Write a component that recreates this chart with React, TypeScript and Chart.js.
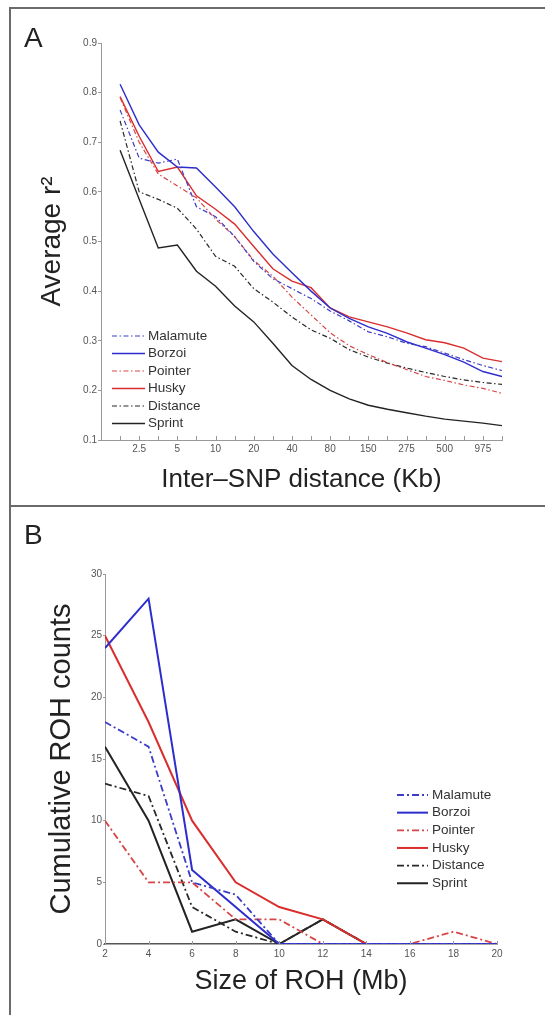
import React, { useEffect, useRef } from 'react';
import { Chart, registerables } from 'chart.js';

Chart.register(...registerables);

const FONT = 'Liberation Sans, Arial, Helvetica, sans-serif';

// ---------- Panel A data ----------
const seriesNames = ['Malamute', 'Borzoi', 'Pointer', 'Husky', 'Distance', 'Sprint'];
// tick labels shown under every other category position (index 1,3,...,19)
const distanceTickLabels = ['2.5', '5', '10', '20', '40', '80', '150', '275', '500', '975'];

const malamuteR2 = [0.765, 0.668, 0.658, 0.666, 0.57, 0.55, 0.51, 0.46, 0.425, 0.405, 0.385, 0.36, 0.34, 0.318, 0.308, 0.295, 0.288, 0.275, 0.262, 0.25, 0.24];
const borzoiR2 = [0.817, 0.735, 0.68, 0.65, 0.648, 0.61, 0.57, 0.52, 0.475, 0.437, 0.4, 0.366, 0.345, 0.328, 0.315, 0.298, 0.285, 0.272, 0.257, 0.238, 0.228];
const pointerR2 = [0.79, 0.7, 0.636, 0.612, 0.588, 0.545, 0.51, 0.462, 0.43, 0.388, 0.352, 0.316, 0.29, 0.272, 0.256, 0.242, 0.228, 0.22, 0.211, 0.204, 0.194];
const huskyR2 = [0.792, 0.712, 0.641, 0.65, 0.592, 0.565, 0.535, 0.49, 0.445, 0.42, 0.407, 0.366, 0.348, 0.338, 0.328, 0.316, 0.302, 0.296, 0.285, 0.265, 0.258];
const distanceR2 = [0.743, 0.6, 0.585, 0.567, 0.525, 0.47, 0.45, 0.405, 0.378, 0.348, 0.322, 0.305, 0.282, 0.267, 0.255, 0.245, 0.236, 0.228, 0.221, 0.216, 0.212];
const sprintR2 = [0.684, 0.585, 0.487, 0.493, 0.44, 0.41, 0.37, 0.338, 0.295, 0.25, 0.222, 0.2, 0.183, 0.17, 0.162, 0.155, 0.148, 0.142, 0.138, 0.134, 0.129];

const r2Ticks = [0.1, 0.2, 0.3, 0.4, 0.5, 0.6, 0.7, 0.8, 0.9];

// ---------- Panel B data ----------
const rohSizes = [2, 4, 6, 8, 10, 12, 14, 16, 18, 20];
const malamuteROH = [18, 16, 5, 4, 0, 0, 0, 0, 0, 0];
const borzoiROH = [24, 28, 6, 3, 0, 0, 0, 0, 0, 0];
const pointerROH = [10, 5, 5, 2, 2, 0, 0, 0, 1, 0];
const huskyROH = [25, 18, 10, 5, 3, 2, 0, 0, 0, 0];
const distanceROH = [13, 12, 3, 1, 0, 2, 0, 0, 0, 0];
const sprintROH = [16, 10, 1, 2, 0, 2, 0, 0, 0, 0];

const BLUE = 'rgb(45,45,205)';
const BLUE_D = 'rgb(60,60,200)';
const RED = 'rgb(218,45,45)';
const RED_D = 'rgb(215,70,70)';
const BLACK = 'rgb(35,35,35)';
const BLACK_D = 'rgb(40,40,40)';

const colorsList = [BLUE_D, BLUE, RED_D, RED, BLACK_D, BLACK];
const dashedList = [true, false, true, false, true, false];

const innerTicksPlugin = {
  id: 'innerTicks',
  afterDraw(chart: any, _args: any, opts: any) {
    const ctx = chart.ctx;
    ctx.save();
    ctx.strokeStyle = opts.color || '#999';
    ctx.lineWidth = 1;
    const scale = chart.scales[opts.axis || 'x'];
    scale.ticks.forEach((t: any) => {
      if (t.value < opts.from) return;
      const px = Math.round(scale.getPixelForValue(t.value)) + 0.5;
      ctx.beginPath();
      ctx.moveTo(px, scale.top);
      ctx.lineTo(px, scale.top - opts.len);
      ctx.stroke();
    });
    ctx.restore();
  },
};

const lineLegendPlugin = {
  id: 'lineLegend',
  afterDraw(chart: any, _args: any, opts: any) {
    const ctx = chart.ctx;
    ctx.save();
    chart.data.datasets.forEach((ds: any, i: number) => {
      const y = opts.y + i * opts.rowH;
      ctx.strokeStyle = ds.borderColor;
      ctx.lineWidth = ds.borderWidth;
      ctx.setLineDash(ds.borderDash || []);
      ctx.beginPath();
      ctx.moveTo(opts.x, y);
      ctx.lineTo(opts.x + opts.len, y);
      ctx.stroke();
      ctx.setLineDash([]);
      ctx.fillStyle = opts.textColor;
      ctx.font = opts.font;
      ctx.textBaseline = 'middle';
      ctx.textAlign = 'left';
      ctx.fillText(ds.label, opts.x + opts.len + opts.gap, y);
    });
    ctx.restore();
  },
};

function buildA(canvas: HTMLCanvasElement) {
  const values = [malamuteR2, borzoiR2, pointerR2, huskyR2, distanceR2, sprintR2];
  const datasets = values.map((vals, k) => ({
    label: seriesNames[k],
    data: vals.map((v, i) => ({ x: i, y: v })),
    borderColor: colorsList[k],
    borderWidth: dashedList[k] ? 1.2 : 1.4,
    borderDash: dashedList[k] ? [5, 2.5, 1.5, 2.5] : [],
    pointRadius: 0,
    tension: 0,
    fill: false,
  }));
  return new Chart(canvas, {
    type: 'line',
    data: { datasets },
    plugins: [innerTicksPlugin, lineLegendPlugin],
    options: {
      animation: false,
      responsive: false,
      events: [],
      layout: { padding: { left: 0, top: 43, right: 43, bottom: 0 } },
      plugins: {
        legend: { display: false },
        tooltip: { enabled: false },
        innerTicks: { axis: 'x', len: 4, color: '#999', from: 0 },
        lineLegend: { x: 112, y: 336, rowH: 17.5, len: 33, gap: 3, font: `13.5px ${FONT}`, textColor: '#333' },
      } as any,
      scales: {
        x: {
          type: 'linear',
          min: -1,
          max: 20,
          afterFit: (s: any) => { s.height = 66; },
          ticks: {
            stepSize: 1,
            autoSkip: false,
            maxRotation: 0,
            padding: 3,
            color: '#555',
            font: { family: FONT, size: 10 },
            callback: (v: any) => {
              const n = Math.round(Number(v));
              if (n >= 1 && n <= 19 && n % 2 === 1) return distanceTickLabels[(n - 1) / 2];
              return '';
            },
          },
          grid: { display: false, drawTicks: false, tickLength: 0 },
          border: { display: true, color: '#999', width: 1 },
          title: {
            display: true,
            text: 'Inter\u2013SNP distance (Kb)',
            color: '#222',
            font: { family: FONT, size: 26 },
            padding: { top: 0, bottom: 11 },
          },
        },
        y: {
          type: 'linear',
          min: r2Ticks[0],
          max: r2Ticks[r2Ticks.length - 1],
          afterFit: (s: any) => { s.width = 101; },
          ticks: {
            stepSize: 0.1,
            padding: 1,
            color: '#555',
            font: { family: FONT, size: 10 },
            callback: (v: any) => Number(v).toFixed(1),
          },
          grid: { display: true, drawOnChartArea: false, drawTicks: true, tickLength: 3, color: '#999' },
          border: { display: true, color: '#999', width: 1 },
          title: {
            display: true,
            text: 'Average r\u00B2',
            color: '#222',
            font: { family: FONT, size: 28 },
            padding: { top: 35, bottom: 0 },
          },
        },
      },
    } as any,
  });
}

function buildB(canvas: HTMLCanvasElement) {
  const values = [malamuteROH, borzoiROH, pointerROH, huskyROH, distanceROH, sprintROH];
  const datasets = values.map((vals, k) => ({
    label: seriesNames[k],
    data: vals.map((v, i) => ({ x: rohSizes[i], y: v })),
    borderColor: colorsList[k],
    borderWidth: dashedList[k] ? 1.8 : 2,
    borderDash: dashedList[k] ? [7, 3, 2, 3] : [],
    pointRadius: 0,
    tension: 0,
    fill: false,
  }));
  return new Chart(canvas, {
    type: 'line',
    data: { datasets },
    plugins: [innerTicksPlugin, lineLegendPlugin],
    options: {
      animation: false,
      responsive: false,
      events: [],
      layout: { padding: { left: 0, top: 68, right: 48, bottom: 0 } },
      plugins: {
        legend: { display: false },
        tooltip: { enabled: false },
        innerTicks: { axis: 'x', len: 3, color: '#999', from: 4 },
        lineLegend: { x: 397, y: 289, rowH: 17.65, len: 31, gap: 4, font: `13.5px ${FONT}`, textColor: '#333' },
      } as any,
      scales: {
        x: {
          type: 'linear',
          min: rohSizes[0],
          max: rohSizes[rohSizes.length - 1],
          afterFit: (s: any) => { s.height = 71; },
          ticks: {
            stepSize: 2,
            autoSkip: false,
            maxRotation: 0,
            padding: 4,
            color: '#555',
            font: { family: FONT, size: 10 },
          },
          grid: { display: false, drawTicks: false, tickLength: 0 },
          border: { display: true, color: '#555', width: 1.5 },
          title: {
            display: true,
            text: 'Size of ROH (Mb)',
            color: '#222',
            font: { family: FONT, size: 27 },
            padding: { top: 0, bottom: 17 },
          },
        },
        y: {
          type: 'linear',
          min: 0,
          max: 30,
          afterFit: (s: any) => { s.width = 105; },
          ticks: {
            stepSize: 5,
            padding: 1,
            color: '#555',
            font: { family: FONT, size: 10 },
          },
          grid: { display: true, drawOnChartArea: false, drawTicks: true, tickLength: 2, color: '#999' },
          border: { display: true, color: '#999', width: 1 },
          title: {
            display: true,
            text: 'Cumulative ROH counts',
            color: '#222',
            font: { family: FONT, size: 29 },
            padding: { top: 45, bottom: 0 },
          },
        },
      },
    } as any,
  });
}

export default function App() {
  const refA = useRef<HTMLCanvasElement>(null);
  const refB = useRef<HTMLCanvasElement>(null);

  useEffect(() => {
    document.body.style.margin = '0';
    const a = buildA(refA.current as HTMLCanvasElement);
    const b = buildB(refB.current as HTMLCanvasElement);
    return () => {
      a.destroy();
      b.destroy();
    };
  }, []);

  const lineColor = '#6a6a6a';
  const panelLabel: React.CSSProperties = {
    position: 'absolute',
    fontFamily: FONT,
    fontSize: 28,
    lineHeight: '28px',
    color: '#222',
  };

  return (
    <div style={{ position: 'relative', width: 545, height: 1015, overflow: 'hidden', background: '#fff' }}>
      <canvas ref={refA} width={545} height={506} style={{ position: 'absolute', left: 0, top: 0 }} />
      <canvas ref={refB} width={545} height={509} style={{ position: 'absolute', left: 0, top: 506 }} />
      <div style={{ position: 'absolute', left: 9, top: 7, width: 2, height: 1008, background: lineColor }} />
      <div style={{ position: 'absolute', left: 9, top: 7, width: 536, height: 2, background: lineColor }} />
      <div style={{ position: 'absolute', left: 9, top: 505, width: 536, height: 2, background: lineColor }} />
      <div style={{ ...panelLabel, left: 24, top: 24 }}>A</div>
      <div style={{ ...panelLabel, left: 24, top: 521 }}>B</div>
    </div>
  );
}
